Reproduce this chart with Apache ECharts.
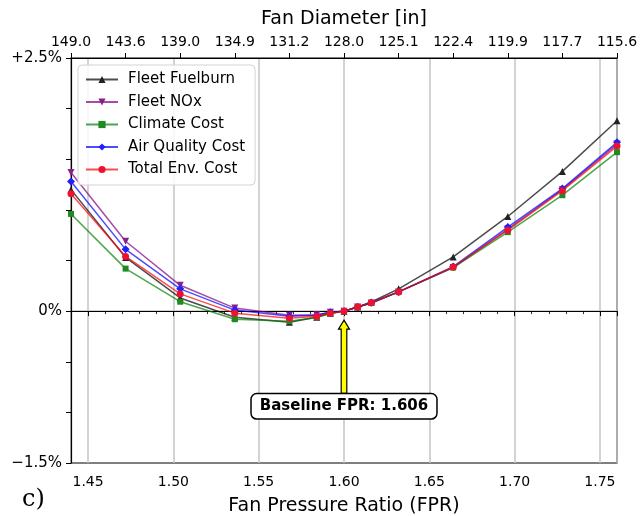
<!DOCTYPE html>
<html>
<head>
<meta charset="utf-8">
<script src="https://cdn.jsdelivr.net/npm/echarts@6/dist/echarts.min.js"></script>
<style>
  html, body { margin: 0; padding: 0; background: #fff; }
  #chart { width: 641px; height: 516px; }
</style>
</head>
<body>
<div id="chart"></div>
<script>
// FPR values of each design point
const fpr = [1.44, 1.472, 1.504, 1.536, 1.568, 1.584, 1.592, 1.60, 1.608, 1.616, 1.632, 1.664, 1.696, 1.728, 1.76];

// change vs baseline, in %
const fleetFuelburn = [1.20, 0.53, 0.13, -0.06, -0.11, -0.06, -0.02, 0, 0.04, 0.09, 0.22, 0.535, 0.935, 1.38, 1.88];
const fleetNox = [1.37, 0.69, 0.255, 0.03, -0.04, -0.035, -0.01, 0, 0.04, 0.08, 0.19, 0.43, 0.81, 1.20, 1.65];
const climateCost = [0.96, 0.42, 0.093, -0.08, -0.10, -0.06, -0.025, 0, 0.04, 0.08, 0.19, 0.43, 0.78, 1.145, 1.57];
const airQualityCost = [1.28, 0.61, 0.22, 0.01, -0.05, -0.04, -0.01, 0, 0.04, 0.083, 0.19, 0.44, 0.83, 1.21, 1.667];
const totalEnvCost = [1.16, 0.54, 0.17, -0.02, -0.07, -0.05, -0.02, 0, 0.04, 0.083, 0.19, 0.436, 0.80, 1.19, 1.63];

// top axis tick labels (fan diameter, evenly spaced)
const diameterLabels = ['149.0', '143.6', '139.0', '134.9', '131.2', '128.0', '125.1', '122.4', '119.9', '117.7', '115.6'];

// bottom axis labelled ticks
const fprTicks = [1.45, 1.50, 1.55, 1.60, 1.65, 1.70, 1.75];

// y tick labels that are shown
const yLabelValues = [-1.5, 0, 2.5];
const yLabelTexts = ['\u22121.5%', '0%', '+2.5%'];

const baselineFpr = 1.60;
const baselineText = 'Baseline FPR: 1.606';

const FONT = 'DejaVu Sans';

const pairs = (ys) => fpr.map((x, i) => [x, ys[i]]);

const mkSeries = (name, data, color, symbol, size, lineColor) => ({
  name: name,
  type: 'line',
  xAxisIndex: 0,
  data: pairs(data),
  symbol: symbol,
  symbolSize: size,
  clip: true,
  lineStyle: { color: lineColor, width: 1.5 },
  itemStyle: { color: color },
  emphasis: { disabled: true },
  animation: false
});

const chart = echarts.init(document.getElementById('chart'));

const option = {
  animation: false,
  textStyle: { fontFamily: FONT },
  grid: {
    left: 71, right: 24, top: 58, bottom: 53,
    outerBoundsMode: 'none',
    containLabel: false,
    show: true, borderColor: '#000', borderWidth: 1.2, backgroundColor: 'transparent'
  },
  legend: {
    orient: 'vertical',
    left: 78, top: 65,
    padding: [7, 10, 8, 7],
    itemWidth: 32, itemHeight: 9, itemGap: 7.5,
    backgroundColor: 'rgba(255,255,255,0.85)',
    borderColor: '#d3d3d3', borderWidth: 1, borderRadius: 4,
    textStyle: { fontFamily: FONT, fontSize: 15, color: '#000', padding: [0, 0, 0, 5] },
    data: ['Fleet Fuelburn', 'Fleet NOx', 'Climate Cost', 'Air Quality Cost', 'Total Env. Cost']
  },
  xAxis: [
    {
      type: 'value', position: 'bottom',
      min: 1.44, max: 1.76, splitNumber: 5,
      name: 'Fan Pressure Ratio (FPR)', nameLocation: 'middle', nameGap: 34,
      nameTextStyle: { fontFamily: FONT, fontSize: 19, color: '#000' },
      axisLine: { show: true, lineStyle: { color: '#000', width: 1.2 } },
      axisTick: { show: true, inside: false, length: 5, lineStyle: { color: '#000', width: 1 } },
      minorTick: { show: true, splitNumber: 5, length: 3, lineStyle: { color: '#000', width: 0.8 } },
      axisLabel: {
        fontFamily: FONT, fontSize: 14, color: '#000', margin: 12,
        showMinLabel: false, showMaxLabel: false,
        formatter: (v) => fprTicks.some(t => Math.abs(t - v) < 1e-6) ? v.toFixed(2) : ''
      },
      splitLine: { show: true, lineStyle: { color: '#c4c4c4', width: 1.5 } }
    },
    {
      type: 'value', position: 'top',
      min: 0, max: 10, interval: 1,
      name: 'Fan Diameter [in]', nameLocation: 'middle', nameGap: 29,
      nameTextStyle: { fontFamily: FONT, fontSize: 19, color: '#000' },
      axisLine: { show: true, lineStyle: { color: '#000', width: 1.2 } },
      axisTick: { show: true, inside: false, length: 5, lineStyle: { color: '#000', width: 1 } },
      axisLabel: {
        fontFamily: FONT, fontSize: 14, color: '#000', margin: 9,
        formatter: (v) => diameterLabels[Math.round(v)]
      },
      splitLine: { show: false }
    }
  ],
  yAxis: {
    type: 'value',
    min: -1.5, max: 2.5, interval: 0.5,
    axisLine: { show: true, lineStyle: { color: '#000', width: 1.2 } },
    axisTick: { show: true, inside: false, length: 5, lineStyle: { color: '#000', width: 1 } },
    axisLabel: {
      fontFamily: FONT, fontSize: 15, color: '#000', margin: 9,
      formatter: (v) => {
        const k = yLabelValues.findIndex(t => Math.abs(t - v) < 1e-6);
        return k >= 0 ? yLabelTexts[k] : '';
      }
    },
    // only the 0% line is drawn
    splitLine: {
      show: true,
      lineStyle: {
        width: 1.5,
        color: ['transparent', 'transparent', 'transparent', '#c4c4c4', 'transparent', 'transparent', 'transparent', 'transparent', 'transparent']
      }
    }
  },
  series: [
    mkSeries('Fleet Fuelburn', fleetFuelburn, '#222222', 'triangle', 7, 'rgba(0,0,0,0.7)'),
    mkSeries('Fleet NOx', fleetNox, '#8a1f8a', 'path://M0,0 L10,0 L5,10 Z', 7, 'rgba(128,0,128,0.7)'),
    mkSeries('Climate Cost', climateCost, '#1f8a1f', 'rect', 6, 'rgba(0,128,0,0.7)'),
    mkSeries('Air Quality Cost', airQualityCost, '#2020ff', 'diamond', 8, 'rgba(0,0,255,0.7)'),
    mkSeries('Total Env. Cost', totalEnvCost, '#f01030', 'circle', 7, 'rgba(255,0,0,0.7)')
  ]
};

chart.setOption(option);

// annotation: baseline box and arrow, placed from data coordinates
const tip = chart.convertToPixel({ xAxisIndex: 0, yAxisIndex: 0 }, [baselineFpr, 0]);
const boxC = chart.convertToPixel({ xAxisIndex: 0, yAxisIndex: 0 }, [baselineFpr, -0.94]);
const ax = tip[0];
const tipY = tip[1] + 9;
const baseY = boxC[1] - 13;
const headLen = 9, headW = 5.5, shaftW = 2.8;

chart.setOption({
  graphic: [
    {
      type: 'polygon',
      z: 100,
      shape: {
        points: [
          [ax, tipY],
          [ax + headW, tipY + headLen],
          [ax + shaftW, tipY + headLen],
          [ax + shaftW, baseY],
          [ax - shaftW, baseY],
          [ax - shaftW, tipY + headLen],
          [ax - headW, tipY + headLen]
        ]
      },
      style: { fill: '#ffff00', stroke: '#000', lineWidth: 1.2 }
    },
    {
      type: 'text',
      z: 101,
      x: boxC[0], y: boxC[1],
      style: {
        text: baselineText,
        font: 'bold 15px "DejaVu Sans"',
        fill: '#000',
        align: 'center', verticalAlign: 'middle',
        backgroundColor: '#fff',
        borderColor: '#000', borderWidth: 1.5, borderRadius: 5,
        padding: [5, 8, 4, 8]
      }
    },
    {
      type: 'text',
      left: 22, top: 488,
      style: {
        text: 'c)',
        font: '24px "DejaVu Serif"',
        fill: '#000'
      }
    }
  ]
});
</script>
</body>
</html>
